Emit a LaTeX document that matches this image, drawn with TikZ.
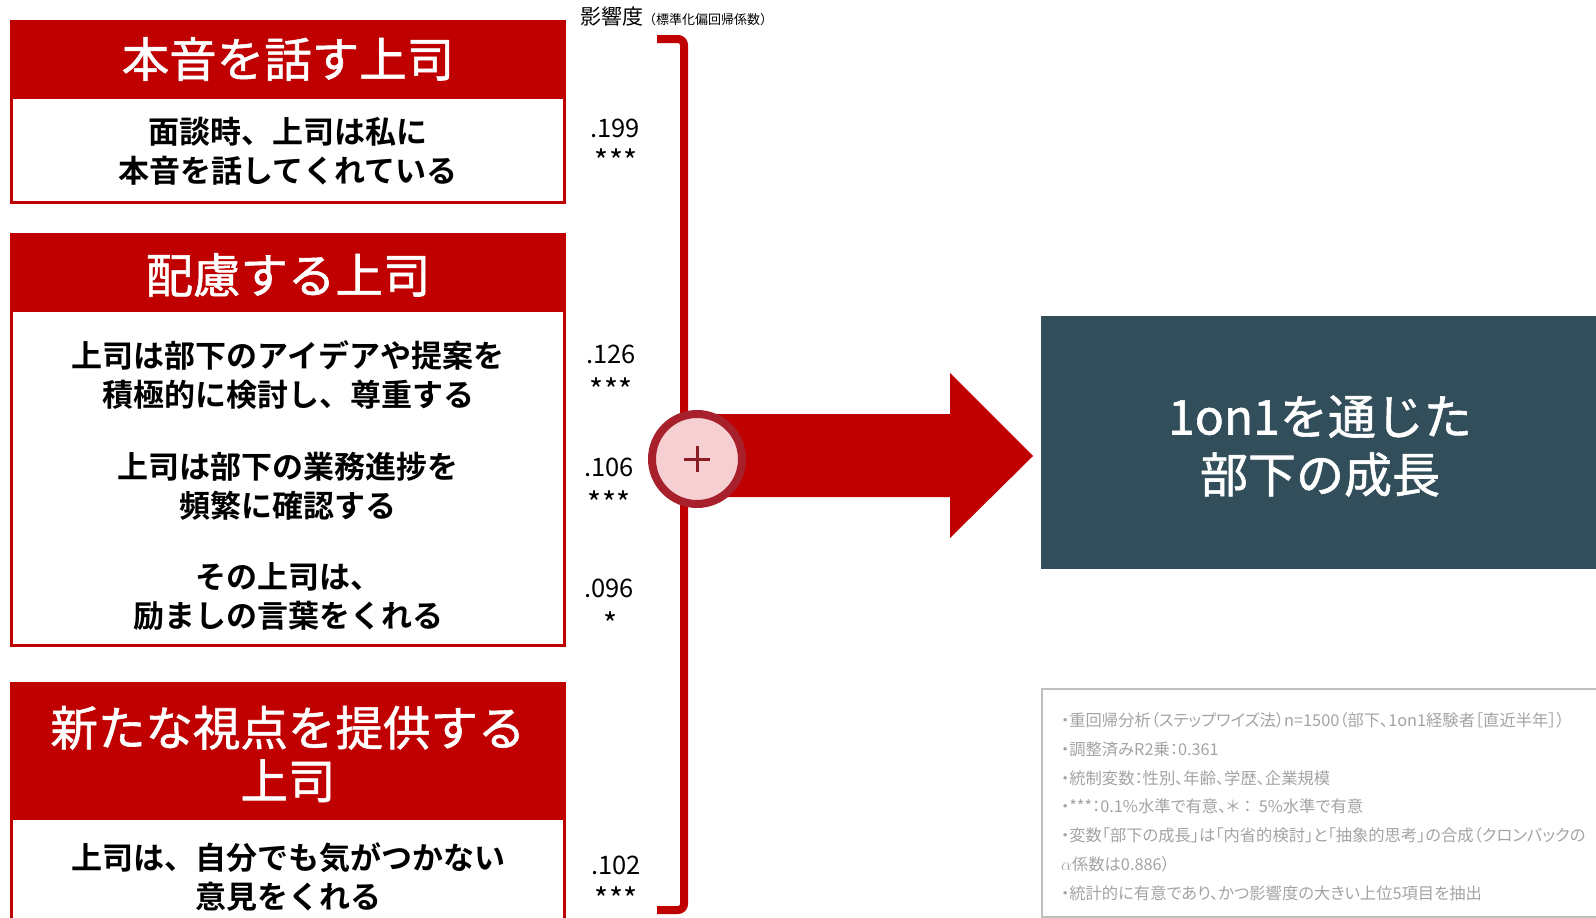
\documentclass[tikz,border=0pt]{standalone}
\usepackage{fontspec}
\setmainfont{Noto Sans CJK JP}
\newfontfamily\jpb{Noto Sans CJK JP}[BoldFont={* Bold}]
\newfontfamily\jpmed{Noto Sans CJK JP}[FakeBold=1.2]
\newfontfamily\jpnote{Noto Sans CJK JP}[RawFeature=+palt]
\definecolor{hred}{HTML}{C00000}
\definecolor{ring}{HTML}{A8202B}
\definecolor{ringfill}{HTML}{F5CFD2}
\definecolor{plusc}{HTML}{8C1C24}
\definecolor{teal}{HTML}{314E5A}
\definecolor{notegray}{HTML}{A3A3A3}
\definecolor{noteborder}{HTML}{BFBFBF}
\tikzset{
  titletext/.style={text=white, align=center, font=\jpmed\fontsize{47.5}{53}\selectfont},
  bodytext/.style={text=black, align=center, font=\jpb\bfseries\fontsize{31}{39}\selectfont},
  coef/.style={text=black, font=\fontsize{25.5}{25.5}\selectfont},
  stars/.style={text=black, font=\fontsize{30}{30}\selectfont},
  notetext/.style={text=notegray, anchor=west, inner sep=0pt, font=\jpnote\fontsize{16.3}{16.3}\selectfont},
  boxframe/.style={draw=hred, line width=3pt, fill=white},
}
\begin{document}
\begin{tikzpicture}[x=1pt,y=-1pt]
\useasboundingbox (0,0) rectangle (1596,918);
% ---- box 1
\draw[boxframe] (11.5,21.5) rectangle (564.5,202.5);
\fill[hred] (10,20) rectangle (566,99);
\node[titletext] (t1) at (288,59) {本音を話す上司};
\node[bodytext] (b1) at (288,151) {面談時、上司は私に\\本音を話してくれている};
% ---- box 2
\draw[boxframe] (11.5,234.5) rectangle (564.5,645);
\fill[hred] (10,233) rectangle (566,312);
\node[titletext] (t2) at (288,275) {配慮する上司};
\node[bodytext] (b2a) at (288,375) {上司は部下のアイデアや提案を\\積極的に検討し、尊重する};
\node[bodytext] (b2b) at (288,486) {上司は部下の業務進捗を\\頻繁に確認する};
\node[bodytext] (b2c) at (288,597) {その上司は、\\励ましの言葉をくれる};
% ---- box 3
\draw[boxframe] (11.5,683.5) rectangle (564.5,960);
\fill[hred] (10,682) rectangle (566,820);
\node[titletext] (t3) at (288,754) {新たな視点を提供する\\上司};
\node[bodytext] (b3) at (288,877) {上司は、自分でも気がつかない\\意見をくれる};
% ---- coefficients
\node[coef] (c1) at (615,128) {.199};
\node[stars] (s1) at (616,161) {***};
\node[coef] (c2) at (611,354) {.126};
\node[stars] (s2) at (611,390) {***};
\node[coef] (c3) at (609,467) {.106};
\node[stars] (s3) at (609,503) {***};
\node[coef] (c4) at (609,588) {.096};
\node[stars] (s4) at (610,624) {*};
\node[coef] (c5) at (616,865) {.102};
\node[stars] (s5) at (616,899) {***};
% ---- heading
\node[anchor=base west, inner sep=0pt] (hd) at (580,24) {{\fontsize{21}{21}\selectfont 影響度}{\fontsize{13}{13}\selectfont （標準化偏回帰係数）}};
% ---- bracket
\coordinate (bt) at (657,39);
\coordinate (bb) at (657,910);
\draw[hred, line width=8pt, rounded corners=6pt] (bt) -- (684,39) -- (684,910) -- (bb);
% ---- arrow
\fill[hred] (697,414) -- (950,414) -- (950,373) -- (1033,456) -- (950,538) -- (950,497) -- (697,497) -- cycle;
% ---- circle
\node[circle, draw=ring, fill=ringfill, line width=8pt, minimum size=90pt, inner sep=0pt] (plus) at (697,459) {};
\draw[plusc, line width=3pt] (684,459) -- (710,459) (697,446) -- (697,472);
% ---- outcome box
\fill[teal] (1041,316) rectangle (1600,569);
\node[text=white, align=center, font=\jpmed\fontsize{48}{58}\selectfont] (out) at (1320,446) {1on1を通じた\\部下の成長};
% ---- note box
\draw[noteborder, line width=1.5pt] (1042,689) rectangle (1605,917);
\node[notetext] (n1) at (1061,720) {・重回帰分析（ステップワイズ法）n=1500（部下、1on1経験者［直近半年］）};
\node[notetext] (n2) at (1061,749) {・調整済みR2乗：0.361};
\node[notetext] (n3) at (1061,778) {・統制変数：性別、年齢、学歴、企業規模};
\node[notetext] (n4) at (1061,806) {・***：0.1\%水準で有意、＊\ ：\ \ 5\%水準で有意};
\node[notetext] (n5) at (1061,835) {・変数「部下の成長」は「内省的検討」と「抽象的思考」の合成（クロンバックの};
\node[notetext] (n6) at (1061,864) {$\alpha$係数は0.886）};
\node[notetext] (n7) at (1061,893) {・統計的に有意であり、かつ影響度の大きい上位5項目を抽出};
\end{tikzpicture}
\end{document}
